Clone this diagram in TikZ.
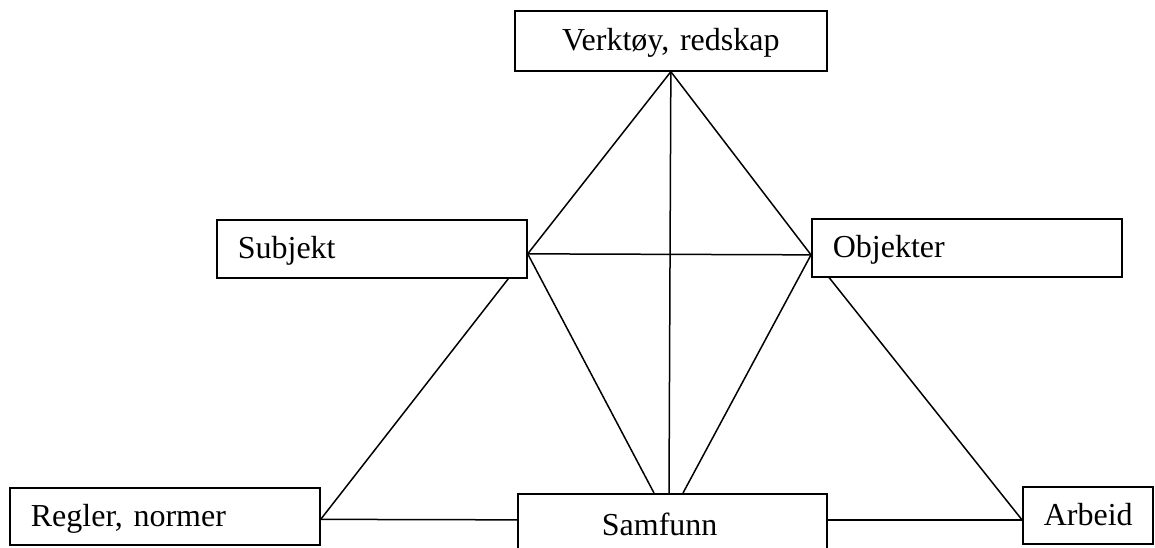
\documentclass[tikz,border=0pt]{standalone}
\usepackage{fontspec}
\setmainfont{Liberation Serif}
\usetikzlibrary{backgrounds}
\begin{document}
\begin{tikzpicture}[x=1pt,y=-1pt,
  box/.style={draw, fill=white, line width=1.7pt, font=\fontsize{32}{38}\selectfont,
    inner ysep=0pt, text height=24pt, text depth=4pt, anchor=north west},
  link/.style={draw, line width=1.5pt}]
\clip (0,0) rectangle (1155,548);
\node[box, inner xsep=0pt, text width=312pt, align=center, minimum height=60pt] (verk) at (514,10) {Verktøy, redskap};
\node[box, inner xsep=21pt, text width=268pt, align=left, minimum height=58pt] (subj) at (216,219) {Subjekt};
\node[box, inner xsep=21pt, text width=268pt, align=left, minimum height=58pt] (obj) at (811,218) {Objekter};
\node[box, inner xsep=21pt, text width=268pt, align=left, minimum height=57pt] (reg) at (9,487) {Regler, normer};
\node[box, inner xsep=21pt, text width=88pt, align=left, minimum height=57pt] (arb) at (1022,486) {Arbeid};
\node[box, inner xsep=84pt, text width=141pt, align=left, minimum height=64pt] (samf) at (517,493) {Samfunn};
\coordinate (sv) at ([yshift=-5pt]subj.east);
\coordinate (ov) at ([yshift=-7pt]obj.west);
\coordinate (rv) at ([yshift=-3pt]reg.east);
\coordinate (av) at ([yshift=-4.5pt]arb.west);
\coordinate (sl) at ([yshift=6pt]samf.west);
\coordinate (sr) at ([yshift=6pt]samf.east);
\coordinate (st1) at ([xshift=137pt]samf.north west);
\coordinate (st2) at ([xshift=152pt]samf.north west);
\coordinate (st3) at ([xshift=166pt]samf.north west);
\begin{scope}[on background layer]
\draw[link] (verk.south) -- (sv);
\draw[link] (verk.south) -- (ov);
\draw[link] (verk.south) -- (st2);
\draw[link] (sv) -- (ov);
\draw[link] (sv) -- (st1);
\draw[link] (ov) -- (st3);
\draw[link] (rv) -- (sv);
\draw[link] (rv) -- (sl);
\draw[link] (sr) -- (av);
\draw[link] (ov) -- (av);
\end{scope}
\end{tikzpicture}
\end{document}
